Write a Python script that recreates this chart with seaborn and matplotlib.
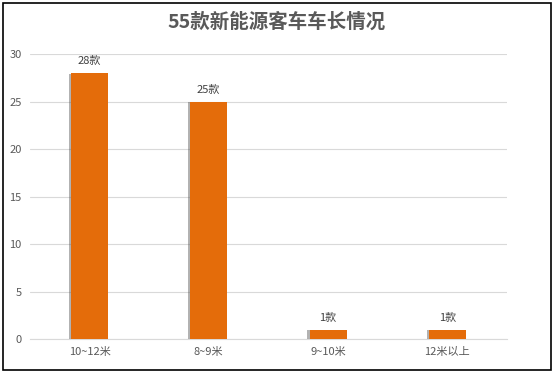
import matplotlib
matplotlib.use('Agg')
import matplotlib.pyplot as plt
import matplotlib.patheffects as pe
from matplotlib.patches import Rectangle
import seaborn as sns
import pandas as pd

# dados do gráfico
categorias = ['10~12米', '8~9米', '9~10米', '12米以上']
quantidade = [28, 25, 1, 1]
rotulos = ['28款', '25款', '1款', '1款']
titulo = '55款新能源客车车长情况'

df = pd.DataFrame({'categoria': categorias, 'qtd': quantidade})

sns.set_style('white')
plt.rcParams['font.family'] = ['Noto Sans CJK SC', 'DejaVu Sans']

fig = plt.figure(figsize=(5.54, 3.73), dpi=100)
ax = fig.add_axes([0.054, 0.091, 0.861, 0.764])

sns.barplot(x='categoria', y='qtd', data=df, color='#E46C0A', width=0.31,
            saturation=1, linewidth=0, ax=ax, zorder=3)

# sombra nas barras
for barra in ax.patches:
    barra.set_path_effects([pe.SimplePatchShadow(offset=(-1.5, -0.5), shadow_rgbFace='#555555', alpha=0.45),
                            pe.Normal()])

# rótulos acima das barras
for barra, txt in zip(ax.patches, rotulos):
    ax.annotate(txt, (barra.get_x() + barra.get_width() / 2, barra.get_height()),
                xytext=(0, 5), textcoords='offset points', ha='center', va='bottom',
                fontsize=8, color='#404040')

ax.set_ylim(0, 30)
ax.set_yticks(range(0, 31, 5))
ax.yaxis.grid(True, color='#d9d9d9', linewidth=0.8, zorder=0)
ax.set_xlabel('')
ax.set_ylabel('')
for lado in ax.spines.values():
    lado.set_visible(False)
ax.spines['bottom'].set_visible(True)
ax.spines['bottom'].set_color('#d9d9d9')
ax.tick_params(axis='both', length=0, labelsize=8, labelcolor='#595959', pad=6)

fig.text(0.5, 0.94, titulo, ha='center', va='center', fontsize=14, fontweight='bold',
         color='#595959')

# moldura do gráfico
fig.patches.append(Rectangle((0.006, 0.008), 0.988, 0.984, transform=fig.transFigure,
                             fill=False, edgecolor='black', linewidth=1.2))

fig.savefig('out.png', dpi=100)
